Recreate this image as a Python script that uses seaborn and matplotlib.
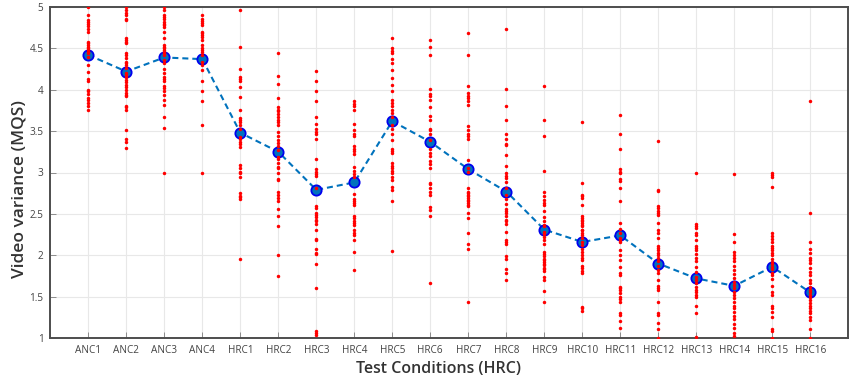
import numpy as np
import pandas as pd
import matplotlib
matplotlib.use("Agg")
import matplotlib.pyplot as plt
import seaborn as sns

conditions = ["ANC1", "ANC2", "ANC3", "ANC4", "HRC1", "HRC2", "HRC3", "HRC4",
              "HRC5", "HRC6", "HRC7", "HRC8", "HRC9", "HRC10", "HRC11", "HRC12",
              "HRC13", "HRC14", "HRC15", "HRC16"]

# Per-condition mean of the individual scores
mean_scores = [4.42, 4.22, 4.39, 4.37, 3.48, 3.25, 2.79, 2.88, 3.62, 3.37,
               3.04, 2.77, 2.31, 2.16, 2.24, 1.90, 1.72, 1.63, 1.86, 1.55]

# Individual scores per condition
anc1 = [5.0, 4.90, 4.84, 4.82, 4.79, 4.77, 4.74, 4.70, 4.58, 4.56, 4.54, 4.52, 4.50,
        4.48, 4.46, 4.44, 4.40, 4.30, 4.22, 4.13, 4.11, 4.00, 3.98, 3.95, 3.90, 3.88,
        3.84, 3.80, 3.75]
anc2 = [5.0, 4.96, 4.93, 4.90, 4.86, 4.84, 4.62, 4.60, 4.58, 4.56, 4.44, 4.42, 4.38,
        4.34, 4.32, 4.30, 4.26, 4.20, 4.18, 4.15, 4.12, 4.09, 4.06, 4.03, 4.00, 3.96,
        3.94, 3.92, 3.80, 3.79, 3.76, 3.51, 3.40, 3.37, 3.30]
anc3 = [5.0, 4.96, 4.90, 4.88, 4.86, 4.82, 4.80, 4.78, 4.76, 4.70, 4.62, 4.54, 4.52,
        4.50, 4.48, 4.46, 4.44, 4.42, 4.36, 4.32, 4.25, 4.20, 4.15, 4.13, 4.10, 4.05,
        4.02, 3.99, 3.94, 3.88, 3.82, 3.67, 3.54, 3.0]
anc4 = [4.90, 4.86, 4.83, 4.81, 4.78, 4.70, 4.68, 4.66, 4.64, 4.60, 4.54, 4.50, 4.48,
        4.46, 4.42, 4.34, 4.30, 4.24, 4.10, 3.99, 3.86, 3.57, 3.0]
hrc1 = [4.96, 4.52, 4.25, 4.16, 4.13, 4.10, 4.03, 3.91, 3.76, 3.66, 3.64, 3.61, 3.58,
        3.53, 3.43, 3.40, 3.37, 3.34, 3.31, 3.09, 3.05, 3.01, 2.99, 2.94, 2.75, 2.72,
        2.70, 2.68, 1.96]
hrc2 = [4.44, 4.17, 4.07, 3.90, 3.79, 3.76, 3.74, 3.71, 3.67, 3.64, 3.61, 3.58, 3.49,
        3.44, 3.39, 3.36, 3.32, 3.27, 3.19, 3.16, 3.11, 3.07, 3.05, 2.99, 2.92, 2.91,
        2.77, 2.73, 2.69, 2.65, 2.56, 2.48, 2.35, 2.0, 1.75]
hrc3 = [4.23, 4.10, 3.98, 3.87, 3.67, 3.59, 3.53, 3.49, 3.47, 3.40, 3.16, 3.04, 3.01,
        2.98, 2.96, 2.81, 2.59, 2.57, 2.51, 2.49, 2.46, 2.43, 2.41, 2.38, 2.31, 2.20,
        2.18, 2.07, 2.03, 2.02, 1.89, 1.61, 1.08, 1.06, 1.04]
hrc4 = [3.87, 3.83, 3.80, 3.76, 3.59, 3.51, 3.47, 3.44, 3.32, 3.29, 3.26, 3.22, 3.07,
        3.02, 2.98, 2.95, 2.74, 2.68, 2.65, 2.63, 2.61, 2.47, 2.45, 2.41, 2.39, 2.37,
        2.31, 2.27, 2.24, 2.19, 2.04, 1.82]
hrc5 = [4.62, 4.50, 4.47, 4.44, 4.37, 4.32, 4.24, 4.14, 4.06, 3.99, 3.88, 3.84, 3.80,
        3.76, 3.72, 3.67, 3.57, 3.53, 3.47, 3.39, 3.29, 3.26, 3.23, 3.11, 3.08, 3.05,
        3.02, 2.99, 2.95, 2.91, 2.83, 2.79, 2.66, 2.05]
hrc6 = [4.60, 4.52, 4.42, 4.01, 3.95, 3.92, 3.88, 3.79, 3.68, 3.64, 3.53, 3.51, 3.47,
        3.39, 3.29, 3.23, 3.20, 3.14, 3.10, 3.05, 2.87, 2.81, 2.86, 2.77, 2.73, 2.58,
        2.55, 2.47, 1.67]
hrc7 = [4.68, 4.42, 4.04, 3.96, 3.92, 3.90, 3.86, 3.82, 3.56, 3.51, 3.47, 3.44, 3.40,
        3.15, 3.05, 3.01, 2.81, 2.77, 2.75, 2.73, 2.71, 2.69, 2.67, 2.65, 2.63, 2.61,
        2.59, 2.51, 2.45, 2.27, 2.14, 2.08, 1.44]
hrc8 = [4.73, 4.01, 3.80, 3.63, 3.47, 3.40, 3.35, 3.33, 3.21, 3.08, 2.99, 2.96, 2.93,
        2.89, 2.81, 2.73, 2.68, 2.62, 2.56, 2.53, 2.51, 2.47, 2.43, 2.41, 2.38, 2.28,
        2.18, 2.16, 2.14, 1.99, 1.96, 1.83, 1.78, 1.70]
hrc9 = [4.05, 3.64, 3.44, 3.02, 2.77, 2.71, 2.67, 2.63, 2.61, 2.54, 2.46, 2.41, 2.37,
        2.35, 2.28, 2.26, 2.22, 2.18, 2.14, 2.04, 2.02, 1.99, 1.96, 1.94, 1.92, 1.90,
        1.88, 1.85, 1.83, 1.81, 1.74, 1.70, 1.57, 1.44]
hrc10 = [3.61, 2.87, 2.73, 2.71, 2.69, 2.61, 2.47, 2.45, 2.43, 2.41, 2.39, 2.37, 2.35,
         2.31, 2.30, 2.27, 2.24, 2.21, 2.16, 2.12, 2.08, 2.04, 2.00, 1.97, 1.94, 1.87,
         1.84, 1.81, 1.79, 1.38, 1.36, 1.33]
hrc11 = [3.69, 3.47, 3.28, 3.04, 3.01, 3.00, 2.92, 2.90, 2.81, 2.65, 2.39, 2.32, 2.27,
         2.21, 2.19, 2.16, 2.06, 2.00, 1.94, 1.86, 1.78, 1.76, 1.62, 1.60, 1.58, 1.54,
         1.50, 1.47, 1.44, 1.30, 1.28, 1.20, 1.12]
hrc12 = [3.38, 2.79, 2.78, 2.60, 2.57, 2.54, 2.51, 2.49, 2.39, 2.31, 2.27, 2.21, 2.11,
         2.09, 2.06, 2.03, 2.00, 1.97, 1.93, 1.87, 1.82, 1.78, 1.70, 1.63, 1.60, 1.58,
         1.44, 1.30, 1.28, 1.18, 1.11, 1.0]
hrc13 = [3.0, 2.38, 2.35, 2.33, 2.27, 2.24, 2.19, 2.11, 2.09, 2.06, 2.01, 1.97, 1.93,
         1.86, 1.80, 1.74, 1.70, 1.66, 1.62, 1.58, 1.55, 1.52, 1.49, 1.39, 1.30, 1.01]
hrc14 = [2.98, 2.26, 2.16, 2.04, 2.00, 1.97, 1.93, 1.87, 1.82, 1.77, 1.72, 1.68, 1.64,
         1.60, 1.56, 1.52, 1.48, 1.44, 1.39, 1.36, 1.32, 1.26, 1.23, 1.17, 1.12, 1.06,
         1.02]
hrc15 = [3.0, 2.97, 2.95, 2.82, 2.27, 2.23, 2.20, 2.16, 2.11, 2.09, 2.06, 2.03, 2.00,
         1.96, 1.92, 1.89, 1.86, 1.83, 1.79, 1.76, 1.71, 1.63, 1.55, 1.52, 1.39, 1.36,
         1.32, 1.25, 1.11, 1.08, 1.0]
hrc16 = [3.86, 2.51, 2.16, 2.08, 2.03, 1.97, 1.94, 1.91, 1.85, 1.80, 1.76, 1.70, 1.66,
         1.62, 1.58, 1.55, 1.52, 1.49, 1.46, 1.42, 1.39, 1.36, 1.33, 1.30, 1.25, 1.22,
         1.11, 1.0]

score_lists = [anc1, anc2, anc3, anc4, hrc1, hrc2, hrc3, hrc4, hrc5, hrc6,
               hrc7, hrc8, hrc9, hrc10, hrc11, hrc12, hrc13, hrc14, hrc15, hrc16]

y_ticks = [1, 1.5, 2, 2.5, 3, 3.5, 4, 4.5, 5]
y_tick_labels = ["1", "1.5", "2", "2.5", "3", "3.5", "4", "4.5", "5"]

scores = pd.DataFrame({
    "condition": [c for c, s in zip(conditions, score_lists) for _ in s],
    "score": [v for s in score_lists for v in s],
})
means = pd.DataFrame({"condition": conditions, "mean": mean_scores})

sns.set_theme(style="whitegrid")
plt.rcParams["font.family"] = ["Open Sans", "DejaVu Sans"]

fig = plt.figure(figsize=(8.51, 3.81), dpi=100)
ax = fig.add_axes([50.3 / 851, 43 / 381, 798 / 851, 331 / 381])

# Mean per condition: dashed line with circle markers
sns.pointplot(data=means, x="condition", y="mean", order=conditions, ax=ax,
              color="#0072BD", linestyles="--", markers="o", errorbar=None,
              markersize=7.4, markeredgecolor="#0000EE", markeredgewidth=1.3,
              linewidth=1.5, zorder=2)
for line in ax.lines:
    line.set_dashes([2.9, 1.9])

# Individual scores on top
sns.stripplot(data=scores, x="condition", y="score", order=conditions, ax=ax,
              jitter=False, color="#FF0000", size=2.5, linewidth=0, zorder=3)

ax.set_xlim(-1, 20)
ax.set_ylim(1, 5)
ax.set_yticks(y_ticks)
ax.set_yticklabels(y_tick_labels)

ax.grid(True, color="#E8E8E8", linewidth=0.8)
ax.set_axisbelow(True)
for side in ["left", "right", "top", "bottom"]:
    ax.spines[side].set_visible(True)
    ax.spines[side].set_color("#4D4D4D")
    ax.spines[side].set_linewidth(1.4)

ax.tick_params(axis="both", which="major", direction="in", length=4, width=0.7,
               color="#8C8C8C", labelcolor="#444444", labelsize=7.2, pad=5)
ax.tick_params(axis="x", bottom=True, top=False)
ax.tick_params(axis="y", left=True, right=False, pad=5)

ax.set_xlabel("Test Conditions (HRC)", fontsize=11.5, fontweight="semibold",
              color="#333333")
ax.xaxis.set_label_coords(0.487, -0.068)
ax.set_ylabel("Video variance (MQS)", fontsize=12.5, fontweight="semibold",
              color="#333333")
ax.yaxis.set_label_coords(-0.029, 0.45)

fig.savefig("out.png", dpi=100)
